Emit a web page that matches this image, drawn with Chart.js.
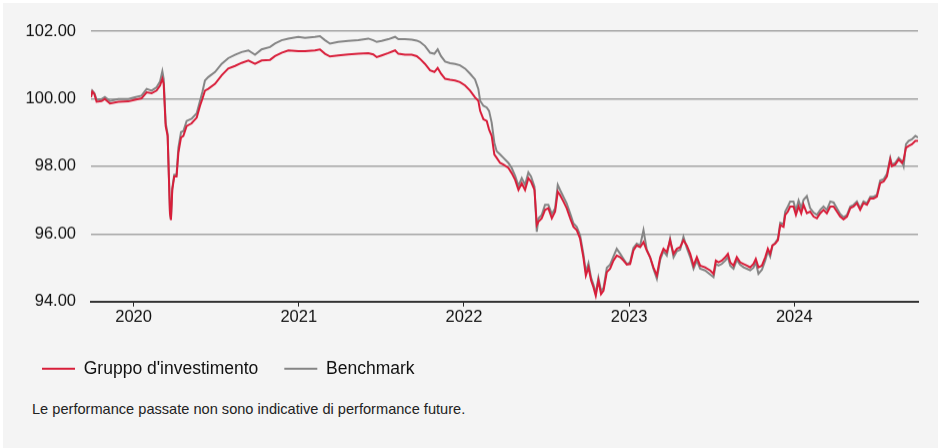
<!DOCTYPE html>
<html>
<head>
<meta charset="utf-8">
<script src="https://cdn.jsdelivr.net/npm/chart.js@4.4.1/dist/chart.umd.min.js"></script>
<style>
  html, body { margin: 0; padding: 0; background: #ffffff; }
  #panel { position: absolute; left: 3px; top: 3px; width: 935px; height: 445px; background: #f4f4f4; }
  #wrap { position: absolute; left: 0; top: 0; width: 935px; height: 383.5px; }
  #note { position: absolute; left: 29px; top: 398px; font: 14.6px "Liberation Sans", Arial, sans-serif; color: #222; }
</style>
</head>
<body>
<div id="panel">
  <div id="wrap"><canvas id="perfChart"></canvas></div>
  <div id="note">Le performance passate non sono indicative di performance future.</div>
</div>
<script>
// Decimal years
const dates = [
  2019.742,2019.750,2019.762,2019.776,2019.806,2019.826,2019.857,2019.907,2019.968,2020.008,
  2020.048,2020.079,2020.109,2020.139,2020.160,2020.174,2020.182,2020.194,2020.206,2020.214,
  2020.220,2020.226,2020.234,2020.246,2020.260,2020.271,2020.287,2020.301,2020.321,2020.351,
  2020.382,2020.402,2020.416,2020.432,2020.452,2020.493,2020.533,2020.573,2020.614,2020.654,
  2020.695,2020.735,2020.775,2020.826,2020.856,2020.896,2020.937,2020.997,
  2021.038,2021.098,2021.128,2021.159,2021.189,2021.239,2021.300,2021.361,2021.421,2021.451,
  2021.472,2021.502,2021.542,2021.583,2021.603,2021.643,2021.684,2021.714,2021.734,2021.764,
  2021.795,2021.821,2021.841,2021.861,2021.886,2021.916,2021.946,2021.976,2022.007,2022.037,
  2022.067,2022.087,2022.098,2022.118,2022.138,2022.152,2022.168,2022.184,2022.198,2022.219,
  2022.239,
  2022.269,2022.289,2022.310,2022.330,2022.350,2022.370,2022.390,2022.406,2022.427,2022.441,
  2022.451,2022.471,2022.491,2022.511,2022.532,2022.552,2022.568,2022.582,2022.602,2022.622,
  2022.643,2022.663,2022.683,2022.703,2022.723,2022.738,2022.754,2022.770,2022.784,2022.798,
  2022.814,2022.830,2022.845,2022.865,2022.885,2022.905,2022.925,2022.946,2022.966,2022.986,
  2023.006,2023.026,2023.046,2023.067,2023.087,2023.107,2023.127,2023.147,2023.168,2023.188,
  2023.208,2023.228,2023.248,2023.269,2023.289,2023.309,2023.329,2023.349,2023.370,2023.390,
  2023.410,2023.430,2023.460,2023.491,2023.511,2023.525,
  2023.541,2023.561,2023.582,2023.598,2023.612,2023.632,2023.652,2023.672,2023.693,2023.713,
  2023.733,2023.753,2023.767,2023.783,2023.804,2023.824,2023.840,2023.854,2023.868,2023.884,
  2023.901,2023.915,2023.935,2023.945,2023.961,2023.975,2023.995,2024.010,2024.026,2024.042,
  2024.056,2024.076,2024.096,2024.117,2024.137,2024.157,2024.177,2024.197,2024.218,2024.238,
  2024.258,2024.278,2024.298,2024.319,2024.339,2024.359,2024.379,2024.399,2024.419,2024.440,
  2024.460,2024.480,2024.500,2024.520,2024.541,2024.561,2024.581,2024.591,2024.611,2024.632,
  2024.652,2024.662,2024.676,2024.692,2024.712,2024.733,2024.749
];

const fund = [
  100.04,100.21,100.14,99.91,99.93,99.99,99.86,99.91,99.92,99.97,
  100.01,100.19,100.16,100.24,100.39,100.59,100.44,99.19,98.90,97.60,
  96.61,96.41,97.30,97.70,97.70,98.40,98.85,98.90,99.19,99.27,
  99.44,99.79,99.99,100.24,100.29,100.44,100.69,100.89,100.97,101.06,
  101.13,101.03,101.13,101.15,101.26,101.36,101.43,101.41,
  101.41,101.43,101.46,101.33,101.25,101.28,101.31,101.33,101.35,101.31,
  101.23,101.28,101.35,101.43,101.33,101.30,101.30,101.26,101.18,101.03,
  100.84,100.79,100.91,100.74,100.59,100.56,100.54,100.49,100.39,100.24,
  100.04,99.94,99.64,99.39,99.34,99.09,98.90,98.35,98.25,98.10,
  98.05,
  97.95,97.80,97.60,97.30,97.50,97.30,97.65,97.55,97.30,96.26,
  96.36,96.46,96.71,96.76,96.46,96.66,97.25,97.15,96.96,96.76,
  96.46,96.21,96.11,95.86,95.31,94.77,95.01,94.62,94.42,94.17,
  94.62,94.22,94.32,94.87,94.97,95.21,95.36,95.31,95.21,95.09,
  95.11,95.51,95.66,95.61,95.76,95.51,95.31,95.01,94.77,95.31,
  95.56,95.46,95.81,95.41,95.56,95.61,95.81,95.66,95.41,95.06,
  95.31,95.06,95.01,94.92,94.82,95.21,
  95.16,95.21,95.31,95.41,95.16,95.06,95.31,95.16,95.11,95.06,
  95.01,95.11,95.26,95.01,95.06,95.31,95.56,95.41,95.66,95.71,
  95.81,96.26,96.21,96.56,96.66,96.81,96.81,96.56,96.81,96.61,
  96.86,96.61,96.66,96.51,96.46,96.61,96.71,96.61,96.81,96.81,
  96.66,96.51,96.43,96.51,96.76,96.81,96.91,96.71,96.91,96.86,
  97.05,97.05,97.10,97.50,97.55,97.70,98.20,98.00,98.05,98.20,
  98.10,98.20,98.55,98.60,98.65,98.75,98.75
];

const benchmark = [
  100.07,100.24,100.17,99.97,99.99,100.05,99.93,99.99,99.99,100.04,
  100.09,100.29,100.24,100.34,100.51,100.81,100.59,99.29,98.95,97.65,
  96.66,96.43,97.35,97.75,97.75,98.55,99.01,99.04,99.34,99.41,
  99.57,99.94,100.19,100.54,100.64,100.79,101.03,101.20,101.30,101.38,
  101.43,101.30,101.46,101.53,101.63,101.73,101.78,101.83,
  101.80,101.83,101.85,101.73,101.63,101.68,101.71,101.73,101.78,101.73,
  101.68,101.71,101.76,101.83,101.76,101.76,101.75,101.72,101.68,101.56,
  101.36,101.33,101.46,101.26,101.10,101.05,101.03,100.99,100.89,100.74,
  100.57,100.29,99.94,99.79,99.74,99.64,99.29,98.70,98.45,98.35,
  98.25,
  98.10,97.95,97.72,97.42,97.65,97.45,97.82,97.70,97.40,96.06,
  96.46,96.56,96.86,96.86,96.59,96.76,97.45,97.30,97.10,96.90,
  96.61,96.31,96.21,95.96,95.41,94.87,95.13,94.70,94.50,94.24,
  94.70,94.32,94.40,95.00,95.09,95.33,95.56,95.41,95.26,95.11,
  95.16,95.59,95.71,95.66,96.11,95.53,95.31,94.97,94.67,95.23,
  95.49,95.36,95.86,95.31,95.49,95.53,95.91,95.59,95.31,94.97,
  95.21,94.97,94.92,94.80,94.72,95.11,
  95.06,95.11,95.21,95.31,95.06,94.97,95.23,95.09,95.01,94.97,
  94.92,95.00,95.16,94.82,94.94,95.21,95.49,95.33,95.66,95.73,
  95.86,96.33,96.29,96.66,96.81,96.96,96.96,96.69,96.99,96.76,
  97.01,97.12,96.76,96.63,96.56,96.71,96.81,96.71,96.96,96.93,
  96.76,96.59,96.49,96.56,96.81,96.86,96.96,96.76,96.96,96.91,
  97.10,97.10,97.15,97.58,97.62,97.78,98.25,98.05,98.10,98.25,
  98.15,98.00,98.65,98.75,98.80,98.90,98.85
];

const seriesNames = ["Gruppo d'investimento", 'Benchmark'];
const yMin = 94, yMax = 102, yStep = 2;
const xMin = 2019.742, xMax = 2024.749;

const font = "'Liberation Sans', Arial, sans-serif";
const toPoints = vals => vals.map((v, i) => ({ x: dates[i], y: v }));

const ctx = document.getElementById('perfChart').getContext('2d');

new Chart(ctx, {
    type: 'line',
    data: {
        datasets: [{
            label: seriesNames[0],
            data: toPoints(fund),
            borderColor: '#d81e3a',
            backgroundColor: '#d81e3a',
            borderWidth: 2,
            pointRadius: 0,
            tension: 0
        }, {
            label: seriesNames[1],
            data: toPoints(benchmark),
            borderColor: '#858585',
            backgroundColor: '#858585',
            borderWidth: 2,
            pointRadius: 0,
            tension: 0
        }]
    },
    options: {
        responsive: true,
        maintainAspectRatio: false,
        animation: false,
        layout: { padding: { left: 13, right: 20, top: 28, bottom: 0 } },
        scales: {
            x: {
                type: 'linear',
                min: xMin,
                max: xMax,
                afterFit: s => { s.height += 5.5; },
                grid: { display: true, drawOnChartArea: false, drawTicks: true, tickLength: 5, color: '#222' },
                border: { display: true, color: '#333', width: 2 },
                ticks: {
                    stepSize: 1,
                    includeBounds: false,
                    padding: 1,
                    color: '#111',
                    font: { family: font, size: 16.5 },
                    maxRotation: 0,
                    callback: v => String(v)
                }
            },
            y: {
                min: yMin,
                max: yMax,
                afterFit: s => { s.width = 75; },
                grid: { color: '#a3a3a3', lineWidth: 1.5, drawTicks: false },
                border: { display: false },
                ticks: {
                    stepSize: yStep,
                    padding: 15,
                    color: '#111',
                    font: { family: font, size: 16.5 },
                    callback: v => v.toFixed(2)
                }
            }
        },
        plugins: {
            tooltip: { enabled: false },
            legend: {
                position: 'bottom',
                align: 'start',
                labels: {
                    usePointStyle: true,
                    pointStyle: 'line',
                    pointStyleWidth: 33,
                    padding: 26,
                    color: '#111',
                    font: { family: font, size: 17.5 }
                }
            }
        }
    }
});
</script>
</body>
</html>
